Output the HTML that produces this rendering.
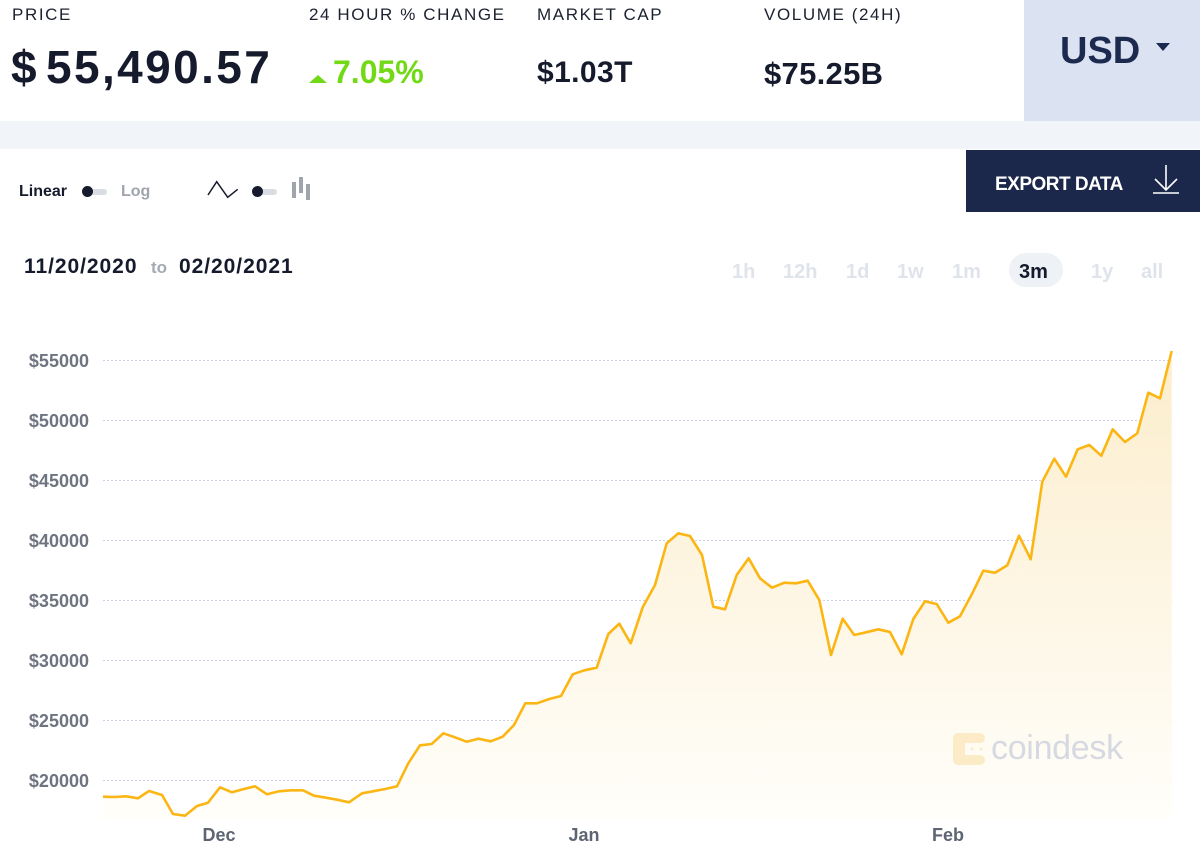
<!DOCTYPE html>
<html><head><meta charset="utf-8"><style>
*{margin:0;padding:0;box-sizing:border-box}
html,body{width:1200px;height:861px;overflow:hidden;background:#fff;font-family:"Liberation Sans",sans-serif}
.a{position:absolute;white-space:nowrap;line-height:1}
.lbl{font-size:17px;letter-spacing:1.6px;color:#1c2130;font-weight:400}
.big{font-weight:700;color:#151b2c}
.tr{font-size:20px;font-weight:700;color:#dfe3eb}
.yl{font-size:18px;font-weight:700;color:#6e7480;text-align:right;width:80px;left:9px}
.xl{font-size:18px;font-weight:700;color:#5d6472;width:60px;text-align:center}
</style></head><body>
<div class="a" style="left:0;top:121px;width:1200px;height:28px;background:#f1f4f9"></div>
<div class="a" style="left:1024px;top:0;width:176px;height:121px;background:#dbe2f1"></div>

<div class="a lbl" style="left:12px;top:6px">PRICE</div>
<div class="a lbl" style="left:309px;top:6px">24 HOUR % CHANGE</div>
<div class="a lbl" style="left:537px;top:6px">MARKET CAP</div>
<div class="a lbl" style="left:764px;top:6px">VOLUME (24H)</div>

<div class="a big" style="left:11px;top:44px;font-size:46px">$</div>
<div class="a big" style="left:46px;top:44px;font-size:46px;letter-spacing:2.4px">55,490.57</div>
<div class="a" style="left:309px;top:75px;width:0;height:0;border-left:9px solid transparent;border-right:9px solid transparent;border-bottom:8px solid #72d916"></div>
<div class="a" style="left:333px;top:56px;font-size:32px;font-weight:700;color:#72d916">7.05%</div>
<div class="a big" style="left:537px;top:57.5px;font-size:30px;letter-spacing:0.4px">$1.03T</div>
<div class="a big" style="left:764px;top:57.5px;font-size:31px;letter-spacing:0.3px">$75.25B</div>

<div class="a" style="left:1060px;top:32px;font-size:38px;font-weight:700;color:#1c2a4f">USD</div>
<div class="a" style="left:1156px;top:43px;width:0;height:0;border-left:7px solid transparent;border-right:7px solid transparent;border-top:8px solid #1c2a4f"></div>

<div class="a" style="left:966px;top:150px;width:234px;height:62px;background:#1c284b"></div>
<div class="a" style="left:995px;top:174.5px;font-size:19px;font-weight:700;color:#fff;letter-spacing:-0.5px">EXPORT DATA</div>
<svg class="a" style="left:1150px;top:162px" width="34" height="34" viewBox="0 0 34 34">
<path d="M16 3 V28 M5 17 L16 28 L27 17" stroke="#fff" stroke-width="1.6" fill="none"/>
<path d="M3 31 H29" stroke="#fff" stroke-width="1.6"/>
</svg>

<div class="a" style="left:19px;top:183.5px;font-size:16px;font-weight:700;color:#151b2c">Linear</div>
<div class="a" style="left:85px;top:188.5px;width:22px;height:6px;border-radius:3px;background:#d9dce2"></div>
<div class="a" style="left:82px;top:186px;width:11px;height:11px;border-radius:50%;background:#151b2c"></div>
<div class="a" style="left:121px;top:183.5px;font-size:16px;font-weight:700;color:#a0a4ad">Log</div>
<svg class="a" style="left:205px;top:178px" width="36" height="24" viewBox="0 0 36 24">
<polyline points="3,17 11.7,3.7 22.7,19.3 32.7,11.3" fill="none" stroke="#151b2c" stroke-width="1.5"/>
</svg>
<div class="a" style="left:255px;top:188.5px;width:22px;height:6px;border-radius:3px;background:#d9dce2"></div>
<div class="a" style="left:252px;top:186px;width:11px;height:11px;border-radius:50%;background:#151b2c"></div>
<div class="a" style="left:292px;top:182px;width:4px;height:16px;background:#a0a4ad"></div>
<div class="a" style="left:299px;top:177px;width:4px;height:16px;background:#a0a4ad"></div>
<div class="a" style="left:306px;top:184px;width:4px;height:16px;background:#a0a4ad"></div>

<div class="a big" style="left:24px;top:255.5px;font-size:21px;letter-spacing:0.95px">11/20/2020</div>
<div class="a" style="left:151px;top:258.5px;font-size:17px;font-weight:700;color:#a5a9b3">to</div>
<div class="a big" style="left:179px;top:255.5px;font-size:21px;letter-spacing:0.95px">02/20/2021</div>

<div class="a tr" style="left:732px;top:262px">1h</div>
<div class="a tr" style="left:783px;top:262px">12h</div>
<div class="a tr" style="left:846px;top:262px">1d</div>
<div class="a tr" style="left:897px;top:262px">1w</div>
<div class="a tr" style="left:952px;top:262px">1m</div>
<div class="a" style="left:1009px;top:253px;width:54px;height:34px;border-radius:17px;background:#eef1f6"></div>
<div class="a tr" style="left:1019px;top:262px;color:#151b2c">3m</div>
<div class="a tr" style="left:1091px;top:262px">1y</div>
<div class="a tr" style="left:1141px;top:262px">all</div>

<svg class="a" style="left:0;top:0" width="1200" height="861" viewBox="0 0 1200 861">
<defs>
<linearGradient id="g" x1="0" y1="350" x2="0" y2="820" gradientUnits="userSpaceOnUse">
<stop offset="0" stop-color="#fcedcc"/>
<stop offset="1" stop-color="#fffefa"/>
</linearGradient>
</defs>
<g stroke="#ccd3e6" stroke-width="1" stroke-dasharray="2,2">
<line x1="103" y1="360.5" x2="1172" y2="360.5"/>
<line x1="103" y1="420.5" x2="1172" y2="420.5"/>
<line x1="103" y1="480.5" x2="1172" y2="480.5"/>
<line x1="103" y1="540.5" x2="1172" y2="540.5"/>
<line x1="103" y1="600.5" x2="1172" y2="600.5"/>
<line x1="103" y1="660.5" x2="1172" y2="660.5"/>
<line x1="103" y1="720.5" x2="1172" y2="720.5"/>
<line x1="103" y1="780.5" x2="1172" y2="780.5"/>
</g>
<polygon fill="url(#g)" points="103,820 103,796.7 115,797 126,796.3 138,798.3 149,791 162,795 173,814 185,815.7 197,806 208,802.7 220,787.3 232,792.3 243,789.3 255,786.3 267,794.3 279,791.3 291,790.3 303,790.3 314,795.7 326,797.7 337,799.7 349,802.3 362,793.3 373,791.3 385,789 397,786.3 408.3,763.3 420,745.3 431.7,744 443.3,733.3 455,737.3 466.7,741.7 478.3,738.7 490.7,741.3 502.7,736.7 514,725 525.3,703.3 537,703.3 549.3,699 561,696 572.7,674.3 584.3,670.3 596.7,667.7 608.3,634 619.3,623.7 630.7,643.3 642.7,607.3 655,585 666.7,543.3 678.3,533.3 690,536 702,555 713.3,606.7 725,609.3 736.7,575 748.7,558.3 760,578.3 772,587.7 784.3,582.7 796,583.3 807.7,580.7 819.3,600 831,655 842.7,618.7 854.3,635 866,632.3 878.3,629.3 890,632 901.7,654.3 913.3,619 925,601.3 936.7,604 948.3,622.7 960,616.3 972.3,593.3 983.3,570.7 995,572.7 1007.3,565.3 1019,535.7 1030.7,559.3 1042.3,481.7 1054.3,458.7 1066,476.7 1077.7,449.3 1089.3,445 1101.3,455.7 1112.7,429.3 1125,442 1137.3,433.3 1148.3,392.7 1160,398.3 1171.7,351 1171.7,820"/>
<g opacity="0.75">
<rect x="953" y="733" width="12" height="32" rx="6" fill="#fbe6b8"/>
<rect x="953" y="733" width="32" height="10" rx="5" fill="#fbe6b8"/>
<rect x="953" y="755" width="32" height="10" rx="5" fill="#fbe6b8"/>
<circle cx="972" cy="749" r="1.5" fill="#fbe6b8"/>
<circle cx="981" cy="749" r="1.5" fill="#fbe6b8"/>
</g>
<polyline fill="none" stroke="#fbb614" stroke-width="2.6" stroke-linejoin="round" points="103,796.7 115,797 126,796.3 138,798.3 149,791 162,795 173,814 185,815.7 197,806 208,802.7 220,787.3 232,792.3 243,789.3 255,786.3 267,794.3 279,791.3 291,790.3 303,790.3 314,795.7 326,797.7 337,799.7 349,802.3 362,793.3 373,791.3 385,789 397,786.3 408.3,763.3 420,745.3 431.7,744 443.3,733.3 455,737.3 466.7,741.7 478.3,738.7 490.7,741.3 502.7,736.7 514,725 525.3,703.3 537,703.3 549.3,699 561,696 572.7,674.3 584.3,670.3 596.7,667.7 608.3,634 619.3,623.7 630.7,643.3 642.7,607.3 655,585 666.7,543.3 678.3,533.3 690,536 702,555 713.3,606.7 725,609.3 736.7,575 748.7,558.3 760,578.3 772,587.7 784.3,582.7 796,583.3 807.7,580.7 819.3,600 831,655 842.7,618.7 854.3,635 866,632.3 878.3,629.3 890,632 901.7,654.3 913.3,619 925,601.3 936.7,604 948.3,622.7 960,616.3 972.3,593.3 983.3,570.7 995,572.7 1007.3,565.3 1019,535.7 1030.7,559.3 1042.3,481.7 1054.3,458.7 1066,476.7 1077.7,449.3 1089.3,445 1101.3,455.7 1112.7,429.3 1125,442 1137.3,433.3 1148.3,392.7 1160,398.3 1171.7,351"/>
</svg>

<div class="a" style="left:991px;top:731px;font-size:34px;color:#d6d9e2;letter-spacing:-0.3px">coindesk</div>

<div class="a yl" style="top:351.5px">$55000</div>
<div class="a yl" style="top:411.5px">$50000</div>
<div class="a yl" style="top:471.5px">$45000</div>
<div class="a yl" style="top:531.5px">$40000</div>
<div class="a yl" style="top:591.5px">$35000</div>
<div class="a yl" style="top:651.5px">$30000</div>
<div class="a yl" style="top:711.5px">$25000</div>
<div class="a yl" style="top:771.5px">$20000</div>

<div class="a xl" style="left:189px;top:826px">Dec</div>
<div class="a xl" style="left:554px;top:826px">Jan</div>
<div class="a xl" style="left:918px;top:826px">Feb</div>
</body></html>
